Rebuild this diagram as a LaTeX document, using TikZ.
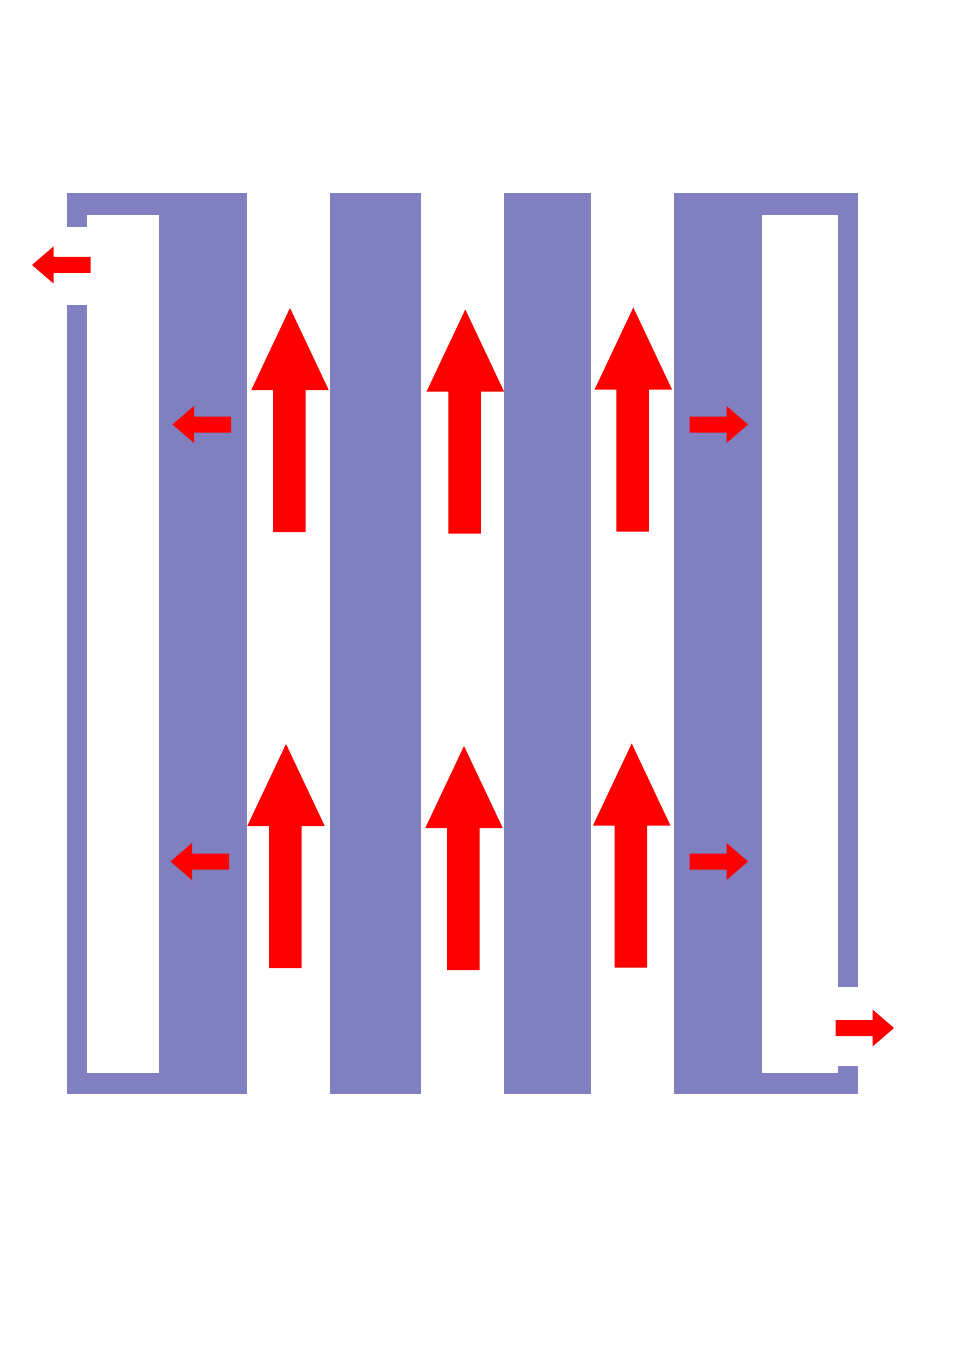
\documentclass[tikz,border=0pt]{standalone}
\definecolor{wallblue}{HTML}{8080C0}
\tikzset{
	wall/.style={fill=wallblue},
	flow/.style={fill=red},
	uparrow/.pic={\fill[flow] (0,0) -- (38.7,82) -- (15.5,82) -- (15.5,224) -- (-17,224) -- (-17,82) -- (-38.7,82) -- cycle;},
	sidearrow/.pic={\fill[flow] (0,0) -- (-21.5,-18.5) -- (-21.5,-8) -- (-58.5,-8) -- (-58.5,8) -- (-21.5,8) -- (-21.5,18.5) -- cycle;}
}
\begin{document}
\begin{tikzpicture}[x=0.5pt,y=-0.5pt]
	\useasboundingbox (0,0) rectangle (960,1358);
	\path (67,193) coordinate (TL)
	++ (791,901) coordinate (BR);
	% outer walls
	\fill[wall] (TL) rectangle (87,227);
	\fill[wall] (67,305) rectangle (87,1094);
	\fill[wall] (838,193) rectangle (858,987);
	\fill[wall] (838,1066) rectangle (BR);
	\fill[wall] (TL) rectangle (247,215);
	\fill[wall] (330,193) rectangle (421,215);
	\fill[wall] (504,193) rectangle (591,215);
	\fill[wall] (674,193) rectangle (858,215);
	\fill[wall] (67,1073) rectangle (247,1094);
	\fill[wall] (330,1073) rectangle (421,1094);
	\fill[wall] (504,1073) rectangle (591,1094);
	\fill[wall] (674,1073) rectangle (BR);
	% plates
	\fill[wall] (159,215) rectangle (247,1073);
	\fill[wall] (330,215) rectangle (421,1073);
	\fill[wall] (504,215) rectangle (591,1073);
	\fill[wall] (674,215) rectangle (762,1073);
	% flow up
	\pic at (290,308) {uparrow};
	\pic at (465.3,309.5) {uparrow};
	\pic at (633.3,307.5) {uparrow};
	\pic at (286,744) {uparrow};
	\pic at (464,746) {uparrow};
	\pic at (631.7,743.5) {uparrow};
	% flow sideways
	\pic[rotate=180] at (172.5,424.5) {sidearrow};
	\pic[rotate=180] at (170.5,861.5) {sidearrow};
	\pic at (748,424.5) {sidearrow};
	\pic at (748,861.5) {sidearrow};
	\pic[rotate=180] at (32,265) {sidearrow};
	\pic at (894,1028) {sidearrow};
\end{tikzpicture}
\end{document}
